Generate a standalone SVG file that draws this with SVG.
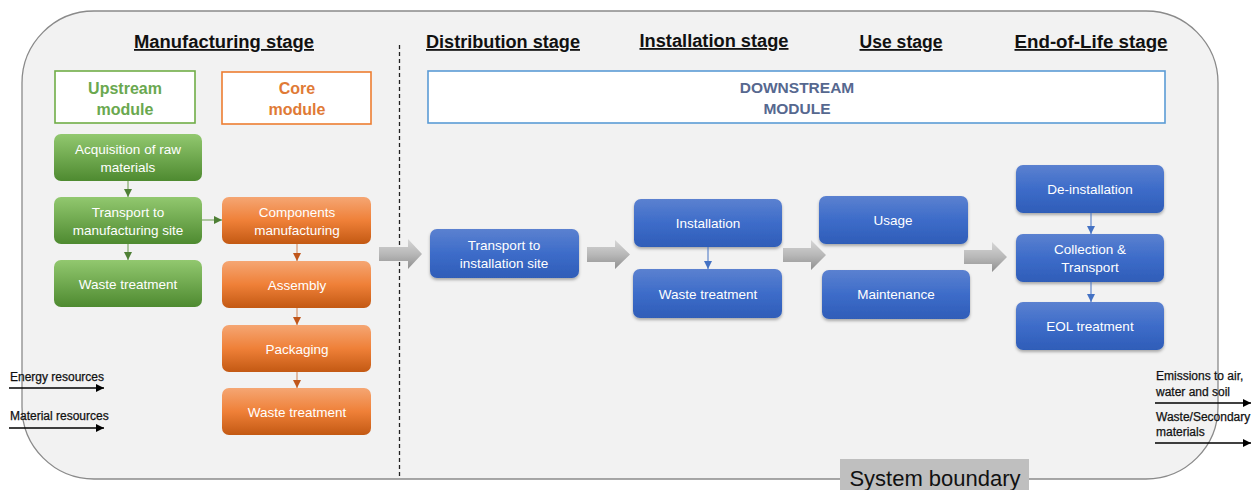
<svg xmlns="http://www.w3.org/2000/svg" width="1253" height="490" viewBox="0 0 1253 490">
<defs>
<style>
.hdr{font-family:"Liberation Sans",Arial,sans-serif;font-size:18px;font-weight:bold;fill:#111;text-decoration:underline;}
.mod{font-family:"Liberation Sans",Arial,sans-serif;font-size:16px;font-weight:bold;text-anchor:middle;}
.nt{font-family:"Liberation Sans",Arial,sans-serif;font-size:13.5px;fill:#fff;text-anchor:middle;}
.side{font-family:"Liberation Sans",Arial,sans-serif;font-size:12px;fill:#111;stroke:#111;stroke-width:0.25;}
.gn{fill:url(#gG);}
.on{fill:url(#gO);}
.bn{fill:url(#gB);filter:url(#sh);}
.ga{fill:url(#gA);}
</style>
<linearGradient id="gG" x1="0" y1="0" x2="0" y2="1"><stop offset="0" stop-color="#92c86f"/><stop offset="1" stop-color="#4e8a30"/></linearGradient>
<linearGradient id="gO" x1="0" y1="0" x2="0" y2="1"><stop offset="0" stop-color="#f5a673"/><stop offset="0.5" stop-color="#ef8038"/><stop offset="1" stop-color="#c35913"/></linearGradient>
<linearGradient id="gB" x1="0" y1="0" x2="0" y2="1"><stop offset="0" stop-color="#5b81d0"/><stop offset="0.5" stop-color="#3d6cc9"/><stop offset="1" stop-color="#2f5db8"/></linearGradient>
<linearGradient id="gA" x1="0" y1="0" x2="0" y2="1"><stop offset="0" stop-color="#d6d6d6"/><stop offset="0.5" stop-color="#b8b8b8"/><stop offset="1" stop-color="#8f8f8f"/></linearGradient>
<filter id="sh" x="-10%" y="-10%" width="120%" height="130%"><feDropShadow dx="0" dy="2" stdDeviation="1.5" flood-color="#000" flood-opacity="0.3"/></filter>
<marker id="mk" viewBox="0 0 10 10" refX="10" refY="5" markerWidth="8" markerHeight="8" markerUnits="userSpaceOnUse" orient="auto"><path d="M0,0 L10,5 L0,10 z" fill="#000"/></marker>
<marker id="mg" viewBox="0 0 10 10" refX="10" refY="5" markerWidth="8" markerHeight="8" markerUnits="userSpaceOnUse" orient="auto"><path d="M0,0 L10,5 L0,10 z" fill="#4e7f35"/></marker>
<marker id="mo" viewBox="0 0 10 10" refX="10" refY="5" markerWidth="8" markerHeight="8" markerUnits="userSpaceOnUse" orient="auto"><path d="M0,0 L10,5 L0,10 z" fill="#c0561a"/></marker>
<marker id="mb" viewBox="0 0 10 10" refX="10" refY="5" markerWidth="8" markerHeight="8" markerUnits="userSpaceOnUse" orient="auto"><path d="M0,0 L10,5 L0,10 z" fill="#4472c4"/></marker>
</defs>
<rect width="1253" height="490" fill="#fff"/>
<g id="boundary">
<rect x="22" y="11" width="1196" height="468" rx="72" ry="72" fill="#f2f2f2" stroke="#8a8a8a" stroke-width="1.3"/>
<line x1="399.5" y1="45" x2="399.5" y2="479" stroke="#222" stroke-width="1.3" stroke-dasharray="4,3"/>
</g>
<g id="headers">
<text class="hdr" x="224" y="48" text-anchor="middle" textLength="180" lengthAdjust="spacingAndGlyphs">Manufacturing stage</text>
<text class="hdr" x="503" y="48" text-anchor="middle" textLength="154" lengthAdjust="spacingAndGlyphs">Distribution stage</text>
<text class="hdr" x="714" y="47" text-anchor="middle" textLength="149" lengthAdjust="spacingAndGlyphs">Installation stage</text>
<text class="hdr" x="901" y="48" text-anchor="middle" textLength="83" lengthAdjust="spacingAndGlyphs">Use stage</text>
<text class="hdr" x="1091" y="48" text-anchor="middle" textLength="153" lengthAdjust="spacingAndGlyphs">End-of-Life stage</text>
</g>
<g id="upstream-module">
<rect x="55" y="71" width="140" height="52" fill="#fff" stroke="#70ad47" stroke-width="1.6"/>
<text class="mod" fill="#6aa84f" x="125" y="94">Upstream</text>
<text class="mod" fill="#6aa84f" x="125" y="115">module</text>
</g>
<g id="core-module">
<rect x="222" y="72" width="149" height="52" fill="#fff" stroke="#ed7d31" stroke-width="1.6"/>
<text class="mod" fill="#e07a36" x="297" y="94">Core</text>
<text class="mod" fill="#e07a36" x="297" y="115">module</text>
</g>
<g id="downstream-module">
<rect x="428" y="71" width="737" height="52" fill="#fff" stroke="#5b9bd5" stroke-width="1.6"/>
<text x="797" y="93" font-family="Liberation Sans,Arial,sans-serif" font-size="15.5" font-weight="bold" fill="#56688f" text-anchor="middle">DOWNSTREAM</text>
<text x="797" y="114" font-family="Liberation Sans,Arial,sans-serif" font-size="15.5" font-weight="bold" fill="#56688f" text-anchor="middle">MODULE</text>
</g>
<g id="acquisition"><rect class="gn" x="54" y="134" width="148" height="47" rx="7"/><text class="nt" x="128" y="154">Acquisition of raw</text><text class="nt" x="128" y="172">materials</text></g>
<g id="transport-mfg"><rect class="gn" x="54" y="197" width="148" height="47" rx="7"/><text class="nt" x="128" y="217">Transport to</text><text class="nt" x="128" y="235">manufacturing site</text></g>
<g id="waste-up"><rect class="gn" x="54" y="260" width="148" height="47" rx="7"/><text class="nt" x="128" y="289">Waste treatment</text></g>
<g id="components"><rect class="on" x="222" y="197" width="149" height="47" rx="7"/><text class="nt" x="297" y="217">Components</text><text class="nt" x="297" y="235">manufacturing</text></g>
<g id="assembly"><rect class="on" x="222" y="261" width="149" height="47" rx="7"/><text class="nt" x="297" y="290">Assembly</text></g>
<g id="packaging"><rect class="on" x="222" y="325" width="149" height="47" rx="7"/><text class="nt" x="297" y="354">Packaging</text></g>
<g id="waste-core"><rect class="on" x="222" y="388" width="149" height="47" rx="7"/><text class="nt" x="297" y="417">Waste treatment</text></g>
<g id="transport-inst"><rect class="bn" x="430" y="229" width="149" height="49" rx="7"/><text class="nt" x="504" y="250">Transport to</text><text class="nt" x="504" y="268">installation site</text></g>
<g id="installation"><rect class="bn" x="634" y="199" width="148" height="48" rx="7"/><text class="nt" x="708" y="228">Installation</text></g>
<g id="waste-inst"><rect class="bn" x="633" y="269" width="149" height="49" rx="7"/><text class="nt" x="708" y="299">Waste treatment</text></g>
<g id="usage"><rect class="bn" x="819" y="196" width="149" height="48" rx="7"/><text class="nt" x="893" y="225">Usage</text></g>
<g id="maintenance"><rect class="bn" x="822" y="270" width="148" height="49" rx="7"/><text class="nt" x="896" y="299">Maintenance</text></g>
<g id="deinstallation"><rect class="bn" x="1016" y="165" width="148" height="48" rx="7"/><text class="nt" x="1090" y="194">De-installation</text></g>
<g id="collection"><rect class="bn" x="1016" y="234" width="148" height="48" rx="7"/><text class="nt" x="1090" y="254">Collection &amp;</text><text class="nt" x="1090" y="272">Transport</text></g>
<g id="eol"><rect class="bn" x="1016" y="302" width="148" height="48" rx="7"/><text class="nt" x="1090" y="331">EOL treatment</text></g>
<g id="connectors">
<line x1="128" y1="181" x2="128" y2="197" stroke="#6a9a4e" stroke-width="1" marker-end="url(#mg)"/>
<line x1="128" y1="244" x2="128" y2="260" stroke="#6a9a4e" stroke-width="1" marker-end="url(#mg)"/>
<line x1="202" y1="220" x2="222" y2="220" stroke="#6a9a4e" stroke-width="1" marker-end="url(#mg)"/>
<line x1="297" y1="244" x2="297" y2="261" stroke="#d08050" stroke-width="1" marker-end="url(#mo)"/>
<line x1="297" y1="308" x2="297" y2="325" stroke="#d08050" stroke-width="1" marker-end="url(#mo)"/>
<line x1="297" y1="372" x2="297" y2="388" stroke="#d08050" stroke-width="1" marker-end="url(#mo)"/>
<line x1="708" y1="247" x2="708" y2="269" stroke="#4472c4" stroke-width="1" marker-end="url(#mb)"/>
<line x1="1091" y1="213" x2="1091" y2="234" stroke="#4472c4" stroke-width="1" marker-end="url(#mb)"/>
<line x1="1091" y1="282" x2="1091" y2="302" stroke="#4472c4" stroke-width="1" marker-end="url(#mb)"/>
<path class="ga" d="M379,247 H408 V239 L422,254 L408,269 V261 H379 Z"/>
<path class="ga" d="M587,247 H615 V240 L630,254.5 L615,269 V262 H587 Z"/>
<path class="ga" d="M783,248 H811 V240 L826,255 L811,270 V262 H783 Z"/>
<path class="ga" d="M964,250 H992 V242 L1007,257 L992,272 V264 H964 Z"/>
<line x1="9" y1="388" x2="104" y2="388" stroke="#000" stroke-width="1.3" marker-end="url(#mk)"/>
<line x1="9" y1="428" x2="104" y2="428" stroke="#000" stroke-width="1.3" marker-end="url(#mk)"/>
<line x1="1155" y1="403" x2="1251" y2="403" stroke="#000" stroke-width="1.3" marker-end="url(#mk)"/>
<line x1="1155" y1="443" x2="1251" y2="443" stroke="#000" stroke-width="1.3" marker-end="url(#mk)"/>
</g>
<g id="side-labels">
<text class="side" x="10" y="381">Energy resources</text>
<text class="side" x="10" y="420">Material resources</text>
<text class="side" x="1156" y="380">Emissions to air,</text>
<text class="side" x="1156" y="396">water and soil</text>
<text class="side" x="1156" y="421">Waste/Secondary</text>
<text class="side" x="1156" y="436">materials</text>
</g>
<g id="system-boundary-label">
<rect x="840" y="459" width="189" height="31" fill="#bfbfbf"/>
<text x="935" y="486" font-family="Liberation Sans,Arial,sans-serif" font-size="22" fill="#111" text-anchor="middle">System boundary</text>
</g>
</svg>
